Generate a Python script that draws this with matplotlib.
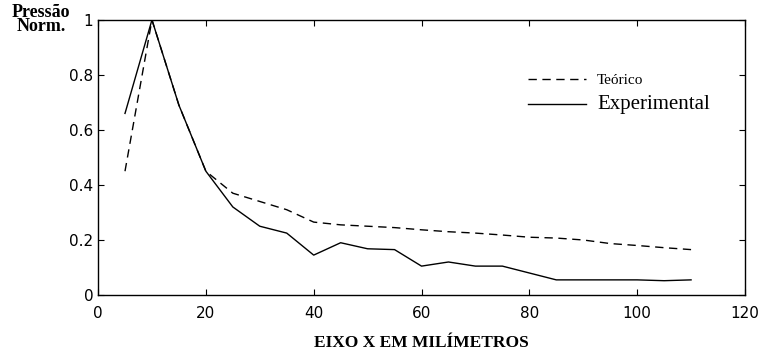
import numpy as np
import matplotlib.pyplot as plt

# distancia ao longo do eixo x (mm)
x_mm = [5, 10, 15, 20, 25, 30, 35, 40, 45, 50, 55,
        60, 65, 70, 75, 80, 85, 90, 95, 100, 105, 110]
# pressao normalizada
teorico = [0.45, 1.0, 0.69, 0.45, 0.37, 0.34, 0.31, 0.265, 0.255, 0.25, 0.245,
           0.237, 0.23, 0.225, 0.218, 0.21, 0.207, 0.2, 0.187, 0.18, 0.172, 0.165]
experimental = [0.66, 1.0, 0.69, 0.45, 0.32, 0.25, 0.225, 0.145, 0.19, 0.168, 0.165,
                0.105, 0.12, 0.105, 0.105, 0.08, 0.055, 0.055, 0.055, 0.055, 0.052, 0.055]

x_ticks = [0, 20, 40, 60, 80, 100, 120]
y_ticks = [0, 0.2, 0.4, 0.6, 0.8, 1]
y_ticklabels = ["0", "0.2", "0.4", "0.6", "0.8", "1"]

fig = plt.figure(figsize=(7.72, 3.55), dpi=100)
ax = fig.add_axes([0.127, 0.169, 0.838, 0.775])

ax.plot(x_mm, teorico, color='black', linestyle=(0, (6, 4)), linewidth=1.0, label='Teórico')
ax.plot(x_mm, experimental, color='black', linestyle='-', linewidth=1.0, label='Experimental')

ax.set_xlim(0, 120)
ax.set_ylim(0, 1)
ax.set_xticks(x_ticks)
ax.set_yticks(y_ticks)
ax.set_yticklabels(y_ticklabels)
ax.tick_params(direction='in', top=True, right=True, length=4, labelsize=11)
ax.tick_params(axis='x', pad=8)
for s in ax.spines.values():
    s.set_linewidth(1.0)

ax.set_xlabel("EIXO X EM MILÍMETROS", family='Liberation Serif', fontsize=12.5,
              fontweight='bold', labelpad=10)
fig.text(0.053, 0.99, "Pressão\nNorm.", family='Liberation Serif', fontsize=13,
         fontweight='bold', ha='center', va='top', linespacing=0.8)

leg = ax.legend(loc='upper right', bbox_to_anchor=(0.965, 0.85), frameon=False,
                handlelength=4.2, handletextpad=0.8, labelspacing=0.6)
txt = leg.get_texts()
txt[0].set_fontfamily('Liberation Serif')
txt[0].set_fontsize(11)
txt[1].set_fontfamily('Liberation Serif')
txt[1].set_fontsize(15)

fig.savefig("out.png", dpi=100)
